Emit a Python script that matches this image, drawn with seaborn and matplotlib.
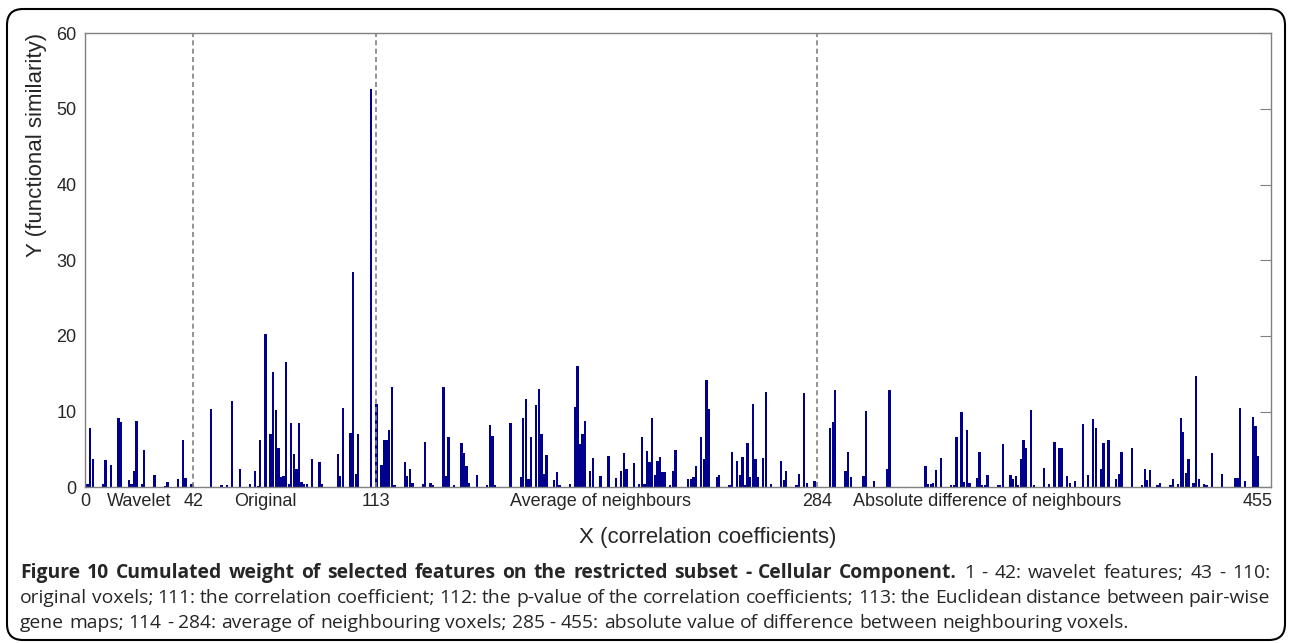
import numpy as np
import pandas as pd
import matplotlib
matplotlib.use("Agg")
import matplotlib.pyplot as plt
from matplotlib.patches import FancyBboxPatch
from matplotlib.font_manager import FontProperties
import seaborn as sns

# Features (1..455) with a non-zero cumulated weight
feature_idx = [1, 2, 3, 7, 8, 10, 13, 14, 17, 18, 19, 20, 22, 23, 27, 31, 32, 36, 38, 39, 41, 42,
               49, 53, 55, 57, 60, 64, 66, 67, 68, 70, 72, 73, 74, 75, 76, 77, 78, 79, 80, 81, 82, 83,
               84, 85, 86, 88, 91, 92, 98, 99, 100, 103, 104, 105, 106, 111, 113,
               115, 116, 117, 118, 119, 120, 124, 125, 126, 127, 131, 132, 134, 135, 139, 140, 141,
               143, 146, 147, 148, 149, 152, 156, 157, 158, 159, 165, 169, 170, 171, 172, 173, 175,
               176, 177, 178, 179, 182, 183, 184, 188, 190, 191, 192, 193, 194, 196, 197, 200, 203,
               206, 208, 209, 210, 213, 215, 216, 217, 218, 219, 220, 221, 222, 223, 224, 225, 227,
               228, 229, 234, 235, 236, 237, 239, 240, 241, 242, 245, 246, 250, 251, 253, 254, 255,
               256, 257, 258, 259, 260, 261, 263, 264, 266, 270, 271, 272, 276, 277, 279, 280, 283,
               289, 290, 291, 295, 296, 297, 302, 303, 306, 311, 312, 326, 327, 328, 329, 330, 332,
               336, 337, 338, 340, 341, 342, 343, 346, 347, 348, 349, 350, 354, 355, 356, 359, 360,
               361, 362, 363, 364, 365, 367, 368, 372, 374, 376, 378, 379, 381, 382, 384, 387, 389,
               391, 392, 394, 395, 397, 400, 401, 402, 406, 410, 411, 412, 413, 416, 417, 421, 422,
               424, 425, 426, 427, 428, 430, 431, 432, 434, 435, 437, 441, 446, 447, 448, 450, 453,
               454, 455]
weight = [0.4, 7.8, 3.8, 0.4, 3.6, 3.0, 9.1, 8.6, 1.0, 0.4, 2.1, 8.8, 0.5, 4.9, 1.6, 0.2, 0.7, 1.1, 6.3, 1.2, 0.4, 0.5,
          10.3, 0.3, 0.3, 11.4, 2.4, 0.5, 2.1, 0.2, 6.3, 20.3, 7.0, 15.2, 10.2, 5.2, 1.3, 1.5, 16.5, 0.5, 8.5, 4.4, 2.4, 8.5,
          0.7, 0.5, 0.4, 3.7, 3.4, 0.4, 4.4, 1.5, 10.5, 7.2, 28.5, 1.8, 7.0, 52.6, 11.0,
          2.9, 6.3, 6.3, 7.6, 13.2, 0.3, 3.3, 1.5, 2.4, 0.6, 0.5, 6.0, 0.6, 0.3, 13.2, 1.5, 6.6,
          0.3, 5.8, 4.5, 2.8, 0.6, 1.6, 0.3, 8.2, 6.8, 0.3, 8.5, 1.4, 9.2, 11.7, 1.1, 6.6, 10.9,
          13.0, 7.1, 1.8, 4.3, 1.0, 2.0, 0.3, 0.4, 10.6, 16.0, 5.7, 7.1, 8.7, 2.2, 3.9, 1.5, 4.2,
          1.2, 2.1, 4.5, 2.4, 3.2, 0.5, 6.6, 0.5, 4.8, 3.3, 9.2, 1.6, 3.5, 4.0, 2.0, 2.0, 0.3,
          2.2, 4.9, 1.1, 1.1, 1.3, 2.8, 6.6, 3.8, 14.2, 10.4, 1.3, 1.6, 0.3, 4.7, 3.5, 1.6, 4.0,
          0.3, 5.9, 1.3, 11.0, 3.8, 1.4, 3.9, 12.6, 0.4, 3.5, 1.0, 2.1, 0.3, 1.8, 12.5, 0.6, 0.8,
          7.8, 8.6, 12.8, 2.1, 4.7, 1.3, 1.5, 10.1, 0.8, 2.4, 12.9, 2.8, 0.4, 0.5, 0.6, 2.3, 3.9,
          0.3, 0.3, 6.7, 10.0, 0.7, 7.6, 0.6, 1.2, 4.7, 0.3, 0.3, 1.6, 0.3, 0.3, 5.7, 1.6, 1.1,
          1.5, 0.3, 3.7, 6.3, 5.2, 10.2, 0.3, 2.5, 0.5, 6.0, 5.2, 5.2, 1.5, 0.6, 0.8, 8.4, 1.6,
          9.0, 7.9, 2.4, 5.9, 6.2, 1.1, 1.8, 4.6, 5.2, 0.3, 2.4, 0.9, 2.3, 0.3, 0.6, 0.3, 1.1,
          0.5, 9.2, 7.3, 1.9, 3.7, 0.6, 14.7, 1.1, 0.5, 0.3, 4.5, 1.7, 1.2, 1.2, 10.5, 0.8, 9.3,
          8.1, 4.1]

n_features = 455
group_bounds = [42, 113, 284]
tick_pos = [0, 21, 42, 70, 113, 200, 284, 350, 455]
tick_labels = ["0", "Wavelet", "42", "Original", "113", "Average of neighbours",
               "284", "Absolute difference of neighbours", "455"]

caption_bold = "Figure 10 Cumulated weight of selected features on the restricted subset - Cellular Component."
caption_lines = [" 1 - 42: wavelet features; 43 - 110:",
                 "original voxels; 111: the correlation coefficient; 112: the p-value of the correlation coefficients; 113: the Euclidean distance between pair-wise",
                 "gene maps; 114 - 284: average of neighbouring voxels; 285 - 455: absolute value of difference between neighbouring voxels."]

# full weight vector
w_full = np.zeros(n_features)
w_full[np.array(feature_idx) - 1] = weight
df = pd.DataFrame({"feature": np.arange(1, n_features + 1), "weight": w_full})

sns.set_style("white")
plt.rcParams["font.family"] = ["Liberation Sans", "DejaVu Sans"]

W, H = 1289, 643
fig = plt.figure(figsize=(W / 100, H / 100), dpi=100)
ax = fig.add_axes([85 / W, 1 - 487.3 / H, (1271 - 85) / W, (487.3 - 33.3) / H])

sns.barplot(data=df, x="feature", y="weight", native_scale=True, color="#00008C",
            saturation=1, width=0.9, errorbar=None, linewidth=0, ax=ax)

for b in group_bounds:
    ax.axvline(b, color="#808080", lw=1.2, ls=(0, (3, 2)), zorder=3)

ax.set_xlim(0, 460)
ax.set_ylim(0, 60)
ax.set_yticks(range(0, 61, 10))
ax.set_xticks(tick_pos)
ax.set_xticklabels(tick_labels)
ax.tick_params(axis="y", direction="in", length=8, right=True, labelsize=13,
               color="#808080", pad=6)
ax.tick_params(axis="x", length=0, labelsize=13, pad=4)
ax.set_xlabel("")
ax.set_ylabel("")
for sp in ax.spines.values():
    sp.set_visible(True)
    sp.set_color("#808080")
    sp.set_linewidth(1)

fig.text(37 / W, 1 - 145 / H, "Y (functional similarity)", rotation=90,
         ha="center", va="center", fontsize=16)
fig.text(708 / W, 1 - 537 / H, "X (correlation coefficients)",
         ha="center", va="center", fontsize=16)

# rounded frame around the figure
frame = FancyBboxPatch((7, 3), 1278, 631, boxstyle="round,pad=0,rounding_size=16",
                       fill=False, ec="black", lw=1.5, transform=None)
fig.add_artist(frame)

# caption, justified like the journal layout
renderer = fig.canvas.get_renderer()


def text_w(s, fp):
    return renderer.get_text_width_height_descent(s, fp, ismath=False)[0]


# size the caption font so the last (unjustified) line ends where it does in the paper
probe = FontProperties(family="Open Sans", size=10)
cap_size = 10 * 1105 / text_w(caption_lines[2], probe)
fp_reg = FontProperties(family="Open Sans", size=cap_size)
fp_bold = FontProperties(family="Open Sans", size=cap_size, weight="bold")


def put_line(pieces, y_px, x0=20, x1=1270, justify=True):
    widths = [text_w(w, fp_bold if b else fp_reg) for w, b in pieces]
    if justify:
        gap = (x1 - x0 - sum(widths)) / (len(pieces) - 1)
    else:
        gap = text_w("a a", fp_reg) - text_w("aa", fp_reg)
    x = x0
    for (w, b), wd in zip(pieces, widths):
        fig.text(x / W, 1 - y_px / H, w, fontproperties=fp_bold if b else fp_reg,
                 ha="left", va="baseline")
        x += wd + gap


line1 = [(w, True) for w in caption_bold.split()] + [(w, False) for w in caption_lines[0].split()]
put_line(line1, 578)
put_line([(w, False) for w in caption_lines[1].split()], 603)
put_line([(w, False) for w in caption_lines[2].split()], 628, justify=False)

fig.savefig("out.png", dpi=100)
